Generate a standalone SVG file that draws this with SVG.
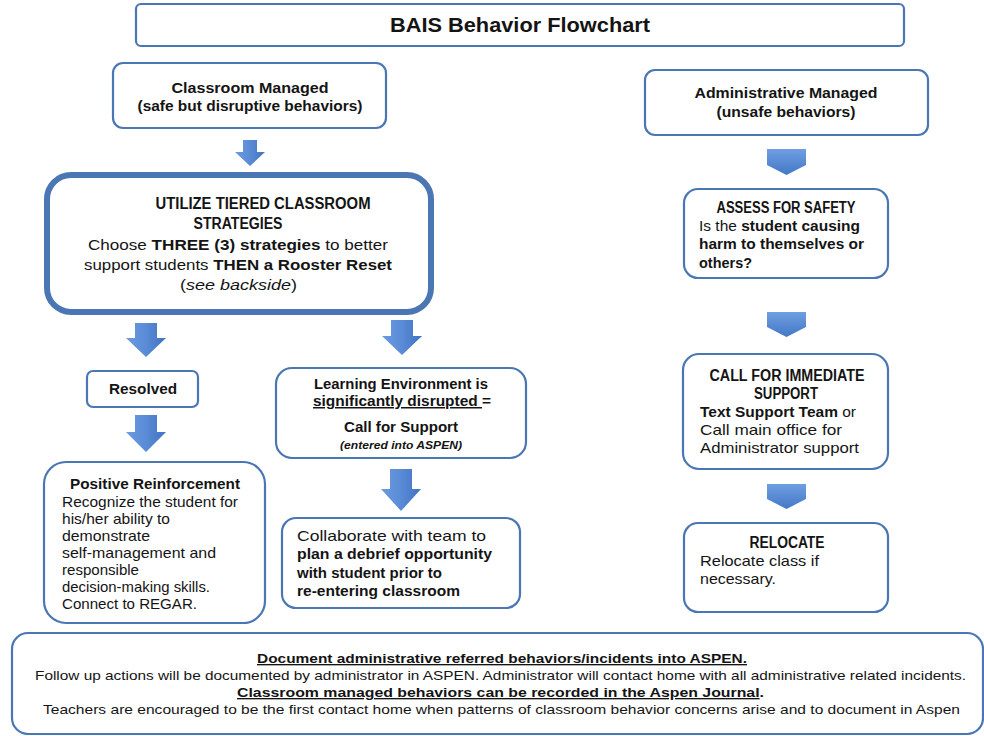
<svg xmlns="http://www.w3.org/2000/svg" width="984" height="736" viewBox="0 0 984 736">
<defs>
<linearGradient id="ag" x1="0" y1="0" x2="1" y2="0">
<stop offset="0" stop-color="#6b9be0"/>
<stop offset="0.5" stop-color="#5a8bd6"/>
<stop offset="1" stop-color="#3f72c0"/>
</linearGradient>
<linearGradient id="ag2" x1="0" y1="0" x2="0" y2="1">
<stop offset="0" stop-color="#6f9fe2"/>
<stop offset="1" stop-color="#4478c6"/>
</linearGradient>
</defs>
<style>
.box{fill:#ffffff;stroke:#4a77b4;stroke-width:2.2}
.thick{stroke-width:6}
.t{font-family:"Liberation Sans",Arial,sans-serif;font-size:15px;fill:#141414}
.b{font-weight:bold}
.c{text-anchor:middle}
.u{font-size:16px}
.s{font-size:13.5px}
.arr{fill:url(#ag);stroke:none}
.arr2{fill:url(#ag2);stroke:none}
</style>
<rect width="984" height="736" fill="#ffffff"/>

<g id="title">
<rect class="box" x="136" y="4" width="768" height="42" rx="5"/>
<text class="t b c" x="520" y="32" style="font-size:21px" textLength="260" lengthAdjust="spacingAndGlyphs">BAIS Behavior Flowchart</text>
</g>

<g id="classroom-managed">
<rect class="box" x="113" y="63" width="273" height="65" rx="10"/>
<text class="t b c" x="250" y="93" textLength="157" lengthAdjust="spacingAndGlyphs">Classroom Managed</text>
<text class="t b c" x="250" y="111" textLength="225" lengthAdjust="spacingAndGlyphs">(safe but disruptive behaviors)</text>
</g>

<g id="utilize">
<rect class="box thick" x="47" y="175" width="384" height="137" rx="24"/>
<text class="t b c u" x="263" y="209" textLength="215" lengthAdjust="spacingAndGlyphs">UTILIZE TIERED CLASSROOM</text>
<text class="t b c u" x="238" y="229" textLength="89" lengthAdjust="spacingAndGlyphs">STRATEGIES</text>
<text class="t" x="88" y="250" textLength="300" lengthAdjust="spacingAndGlyphs">Choose <tspan class="b">THREE (3) strategies</tspan> to better</text>
<text class="t" x="84" y="270" textLength="308" lengthAdjust="spacingAndGlyphs">support students <tspan class="b">THEN a Rooster Reset</tspan></text>
<text class="t" x="180" y="290" textLength="117" lengthAdjust="spacingAndGlyphs">(<tspan font-style="italic">see backside</tspan>)</text>
</g>

<g id="admin-managed">
<rect class="box" x="645" y="70" width="283" height="65" rx="10"/>
<text class="t b c" x="786" y="98" textLength="183" lengthAdjust="spacingAndGlyphs">Administrative Managed</text>
<text class="t b c" x="786" y="117" textLength="139" lengthAdjust="spacingAndGlyphs">(unsafe behaviors)</text>
</g>

<g id="assess">
<rect class="box" x="684" y="189" width="204" height="89" rx="14"/>
<text class="t b c u" x="786" y="213" textLength="139" lengthAdjust="spacingAndGlyphs">ASSESS FOR SAFETY</text>
<text class="t" x="699" y="231" textLength="161" lengthAdjust="spacingAndGlyphs">Is the <tspan class="b">student causing</tspan></text>
<text class="t b" x="699" y="249" textLength="165" lengthAdjust="spacingAndGlyphs">harm to themselves or</text>
<text class="t b" x="699" y="268" textLength="53" lengthAdjust="spacingAndGlyphs">others?</text>
</g>

<g id="call-immediate">
<rect class="box" x="683" y="354" width="205" height="115" rx="16"/>
<text class="t b c u" x="787" y="381" textLength="155" lengthAdjust="spacingAndGlyphs">CALL FOR IMMEDIATE</text>
<text class="t b c u" x="786" y="399" textLength="64" lengthAdjust="spacingAndGlyphs">SUPPORT</text>
<text class="t" x="700" y="417" textLength="156" lengthAdjust="spacingAndGlyphs"><tspan class="b">Text Support Team</tspan> or</text>
<text class="t" x="700" y="435" textLength="142" lengthAdjust="spacingAndGlyphs">Call main office for</text>
<text class="t" x="700" y="453" textLength="159" lengthAdjust="spacingAndGlyphs">Administrator support</text>
</g>

<g id="relocate">
<rect class="box" x="684" y="523" width="204" height="89" rx="14"/>
<text class="t b c u" x="787" y="548" textLength="75" lengthAdjust="spacingAndGlyphs">RELOCATE</text>
<text class="t" x="700" y="566" textLength="119" lengthAdjust="spacingAndGlyphs">Relocate class if</text>
<text class="t" x="700" y="584" textLength="76" lengthAdjust="spacingAndGlyphs">necessary.</text>
</g>

<g id="resolved">
<rect class="box" x="87" y="371" width="111" height="36" rx="6"/>
<text class="t b c" x="143" y="394" textLength="68" lengthAdjust="spacingAndGlyphs">Resolved</text>
</g>

<g id="positive">
<rect class="box" x="44" y="462" width="221" height="161" rx="22"/>
<text class="t b c" x="155" y="489" textLength="170" lengthAdjust="spacingAndGlyphs">Positive Reinforcement</text>
<text class="t" x="62" y="507" textLength="176" lengthAdjust="spacingAndGlyphs">Recognize the student for</text>
<text class="t" x="62" y="524" textLength="108" lengthAdjust="spacingAndGlyphs">his/her ability to</text>
<text class="t" x="62" y="541" textLength="88" lengthAdjust="spacingAndGlyphs">demonstrate</text>
<text class="t" x="62" y="558" textLength="154" lengthAdjust="spacingAndGlyphs">self-management and</text>
<text class="t" x="62" y="575" textLength="77" lengthAdjust="spacingAndGlyphs">responsible</text>
<text class="t" x="62" y="592" textLength="148" lengthAdjust="spacingAndGlyphs">decision-making skills.</text>
<text class="t" x="62" y="609" textLength="135" lengthAdjust="spacingAndGlyphs">Connect to REGAR.</text>
</g>

<g id="learning">
<rect class="box" x="276" y="368" width="250" height="90" rx="16"/>
<text class="t b c" x="401" y="389" textLength="174" lengthAdjust="spacingAndGlyphs">Learning Environment is</text>
<text class="t b" x="313" y="406" textLength="178" lengthAdjust="spacingAndGlyphs"><tspan text-decoration="underline">significantly disrupted </tspan>=</text>
<text class="t b c" x="401" y="432" textLength="114" lengthAdjust="spacingAndGlyphs">Call for Support</text>
<text class="t b c" x="401" y="449" style="font-size:11px" font-style="italic" textLength="122" lengthAdjust="spacingAndGlyphs">(entered into ASPEN)</text>
</g>

<g id="collaborate">
<rect class="box" x="282" y="518" width="238" height="90" rx="14"/>
<text class="t" x="297" y="541" textLength="189" lengthAdjust="spacingAndGlyphs">Collaborate with team to</text>
<text class="t b" x="297" y="559" textLength="195" lengthAdjust="spacingAndGlyphs">plan a debrief opportunity</text>
<text class="t b" x="297" y="578" textLength="145" lengthAdjust="spacingAndGlyphs">with student prior to</text>
<text class="t b" x="297" y="596" textLength="163" lengthAdjust="spacingAndGlyphs">re-entering classroom</text>
</g>

<g id="documentation">
<rect class="box" x="12" y="633" width="971" height="101" rx="16"/>
<text class="t b s" x="257" y="663" text-decoration="underline" textLength="490" lengthAdjust="spacingAndGlyphs">Document administrative referred behaviors/incidents into ASPEN.</text>
<text class="t s" x="35" y="680" textLength="931" lengthAdjust="spacingAndGlyphs">Follow up actions will be documented by administrator in ASPEN. Administrator will contact home with all administrative related incidents.</text>
<text class="t b s" x="237" y="697" textLength="527" lengthAdjust="spacingAndGlyphs"><tspan text-decoration="underline">Classroom managed behaviors can be recorded in the Aspen Journal</tspan>.</text>
<text class="t s" x="43" y="714" textLength="917" lengthAdjust="spacingAndGlyphs">Teachers are encouraged to be the first contact home when patterns of classroom behavior concerns arise and to document in Aspen</text>
</g>

<g id="connectors">
<path class="arr" d="M243,140 H257 V152 H265 L250,166 L235,152 H243 Z"/>
<path class="arr" d="M135,323 H157 V338 H166 L146,357 L126,338 H135 Z"/>
<path class="arr" d="M135,415 H157 V432 H166 L146,452 L126,432 H135 Z"/>
<path class="arr" d="M391,320 H413 V336 H422 L402,355 L382,336 H391 Z"/>
<path class="arr" d="M390,469 H412 V489 H421 L401,511 L381,489 H390 Z"/>
<path class="arr2" d="M767,149 H806 V165 L786.5,175 L767,165 Z"/>
<path class="arr2" d="M767,312 H806 V327 L786.5,337 L767,327 Z"/>
<path class="arr2" d="M767,484 H806 V499 L786.5,509 L767,499 Z"/>
</g>
</svg>
